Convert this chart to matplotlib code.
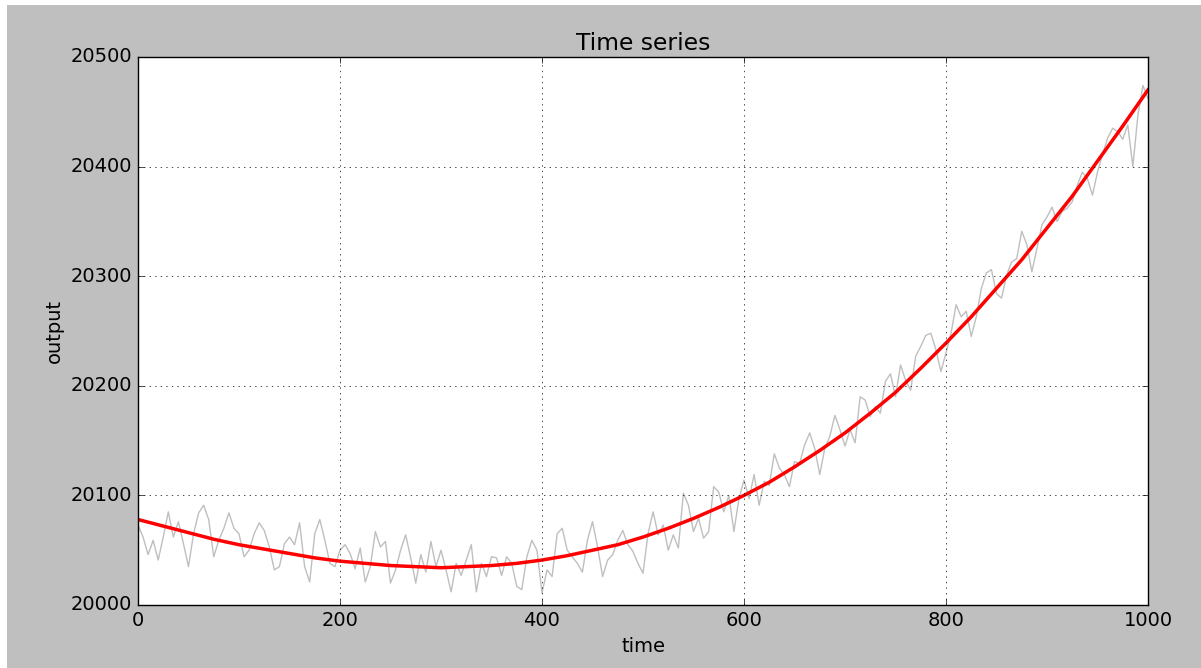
import numpy as np
import matplotlib
matplotlib.use("Agg")
import matplotlib.pyplot as plt
import matplotlib.patches as patches

plt.style.use("classic")

# grey raw series, every 5 time units
rawTime = np.arange(0, 1001, 5)
rawOutput = [
    20073, 20062, 20046, 20059, 20041, 20062, 20085, 20062, 20076, 20056,
    20035, 20065, 20084, 20091, 20078, 20044, 20059, 20070, 20084, 20070,
    20065, 20044, 20050, 20065, 20075, 20068, 20053, 20032, 20035, 20056,
    20062, 20055, 20075, 20035, 20021, 20065, 20078, 20059, 20038, 20035,
    20050, 20055, 20047, 20033, 20052, 20021, 20035, 20067, 20053, 20058,
    20020, 20032, 20050, 20064, 20043, 20020, 20046, 20030, 20058, 20035,
    20050, 20032, 20012, 20038, 20027, 20041, 20055, 20012, 20038, 20026,
    20044, 20043, 20027, 20044, 20038, 20017, 20014, 20044, 20059, 20050,
    20011, 20032, 20026, 20065, 20070, 20050, 20044, 20038, 20030, 20059,
    20076, 20053, 20026, 20041, 20046, 20059, 20068, 20055, 20049, 20038,
    20029, 20065, 20085, 20064, 20073, 20050, 20064, 20052, 20102, 20091,
    20067, 20079, 20061, 20067, 20108, 20103, 20085, 20100, 20067, 20097,
    20114, 20097, 20119, 20091, 20113, 20109, 20138, 20125, 20119, 20108,
    20131, 20129, 20146, 20157, 20143, 20119, 20143, 20154, 20173, 20160,
    20145, 20160, 20148, 20190, 20187, 20172, 20181, 20175, 20204, 20211,
    20190, 20219, 20205, 20196, 20227, 20236, 20246, 20248, 20233, 20213,
    20230, 20248, 20274, 20263, 20268, 20245, 20263, 20289, 20303, 20306,
    20284, 20280, 20301, 20313, 20316, 20341, 20329, 20304, 20325, 20347,
    20354, 20363, 20350, 20359, 20362, 20368, 20383, 20395, 20389, 20374,
    20395, 20411, 20426, 20435, 20432, 20425, 20438, 20400, 20447, 20474,
    20462,
]

# red fitted curve, read every 25 time units
fitTime = np.arange(0, 1001, 25)
fitOutput = [
    20078, 20072, 20066, 20060, 20055, 20051, 20047, 20043, 20040, 20038,
    20036, 20035, 20034, 20035, 20036, 20038, 20041, 20045, 20050, 20055,
    20062, 20070, 20079, 20089, 20100, 20112, 20126, 20141, 20157, 20175,
    20194, 20216, 20239, 20263, 20289, 20315, 20344, 20373, 20405, 20437,
    20470,
]

fig = plt.figure(figsize=(12.01, 6.68), dpi=100)
fig.patch.set_facecolor("white")
# grey figure area, with the thin white strip at top and left of the screenshot
fig.patches.append(patches.Rectangle((7 / 1201, 0), 1 - 7 / 1201, 1 - 5 / 668,
                                     transform=fig.transFigure, facecolor="0.75",
                                     edgecolor="none", zorder=-10))

ax = fig.add_axes([138 / 1201, 1 - 605 / 668, (1148 - 138) / 1201, (605 - 57) / 668])
ax.plot(rawTime, rawOutput, color="0.75", linewidth=1.0)
ax.plot(fitTime, fitOutput, color="red", linewidth=2.5)

ax.set_xlim(0, 1000)
ax.set_ylim(20000, 20500)
ax.set_xticks([0, 200, 400, 600, 800, 1000])
ax.set_yticks([20000, 20100, 20200, 20300, 20400, 20500])
ax.ticklabel_format(useOffset=False)
ax.grid(True)

ax.set_title("Time series", fontsize=16.8)
ax.set_xlabel("time", fontsize=14)
ax.set_ylabel("output", fontsize=14)
ax.tick_params(labelsize=14)

fig.savefig("out.png", dpi=100, facecolor=fig.get_facecolor())
